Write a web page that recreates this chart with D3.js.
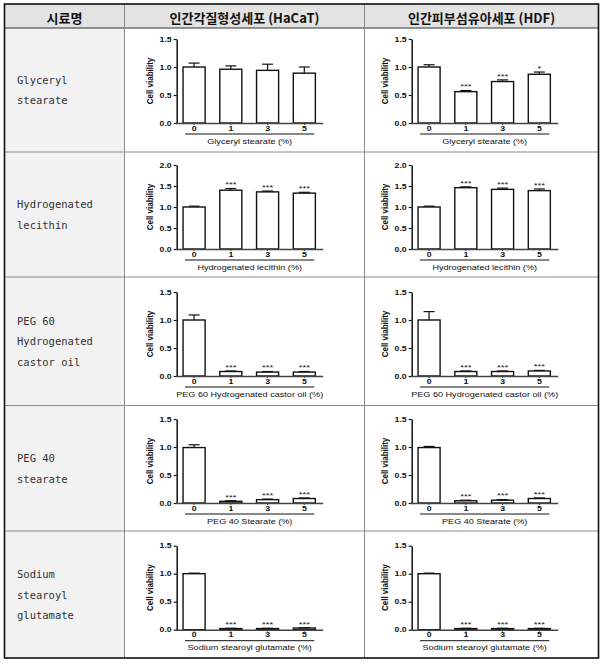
<!DOCTYPE html>
<html><head><meta charset="utf-8">
<script src="https://cdn.jsdelivr.net/npm/d3@7"></script>
<style>html,body{margin:0;padding:0;background:#fff;}svg{display:block;}</style>
</head><body>
<svg id="c" width="606" height="666"></svg>
<script>
// ---------- data ----------
const headers = ["시료명", "인간각질형성세포 (HaCaT)", "인간피부섬유아세포 (HDF)"];
const rowNames = [["Glyceryl","stearate"],["Hydrogenated","lecithin"],["PEG 60","Hydrogenated","castor oil"],["PEG 40","stearate"],["Sodium","stearoyl","glutamate"]];
const xTitles = ["Glyceryl stearate (%)","Hydrogenated lecithin (%)","PEG 60 Hydrogenated castor oil (%)","PEG 40 Stearate (%)","Sodium stearoyl glutamate (%)"];
const doses = ["0","1","3","5"];
const yLabel = "Cell viability";
const yMax = [1.5, 2.0, 1.5, 1.5, 1.5];
const yTicks15 = [0, 0.5, 1.0, 1.5];
const yTicks20 = [0, 0.5, 1.0, 1.5, 2.0];
const hacatMean = [[1.00,0.96,0.94,0.89],[1.00,1.40,1.36,1.33],[1.00,0.08,0.07,0.07],[0.99,0.03,0.06,0.08],[1.00,0.02,0.02,0.03]];
const hacatErr  = [[0.07,0.06,0.11,0.11],[0.02,0.04,0.02,0.02],[0.09,0.01,0.01,0.01],[0.05,0.01,0.01,0.01],[0.01,0.005,0.005,0.005]];
const hacatSig  = [["","","",""],["","***","***","***"],["","***","***","***"],["","***","***","***"],["","***","***","***"]];
const hdfMean = [[1.00,0.56,0.74,0.87],[1.00,1.46,1.42,1.39],[1.00,0.08,0.08,0.09],[0.99,0.04,0.05,0.08],[1.00,0.02,0.02,0.02]];
const hdfErr  = [[0.04,0.02,0.03,0.04],[0.02,0.02,0.03,0.04],[0.15,0.01,0.01,0.01],[0.02,0.01,0.01,0.01],[0.01,0.005,0.005,0.005]];
const hdfSig  = [["","***","***","*"],["","***","***","***"],["","***","***","***"],["","***","***","***"],["","***","***","***"]];

// ---------- layout ----------
const colX = [4.5, 124.5, 364.5, 598.5];
const rowY = [4, 28, 152, 277, 405.5, 531, 658];
const plotTopOff = [11, 13, 15, 13.5, 14.7];
const plotH = 84;
const axisOff = [52.2, 47.2];
const SX = 1.25;

const svg = d3.select("#c");
svg.append("rect").attr("width",606).attr("height",666).attr("fill","#fff");

// backgrounds
svg.append("rect").attr("x",colX[0]).attr("y",rowY[0]).attr("width",colX[3]-colX[0]).attr("height",rowY[1]-rowY[0]).attr("fill","#e3e3e3");
svg.append("rect").attr("x",colX[0]).attr("y",rowY[1]).attr("width",colX[1]-colX[0]).attr("height",rowY[6]-rowY[1]).attr("fill","#f2f2f2");

// grid lines
for (let i = 2; i <= 5; i++) {
  svg.append("line").attr("x1",colX[0]).attr("x2",colX[3]).attr("y1",rowY[i]).attr("y2",rowY[i]).attr("stroke","#8a8a8a").attr("stroke-width",1);
}
svg.append("line").attr("x1",colX[0]).attr("x2",colX[3]).attr("y1",rowY[1]).attr("y2",rowY[1]).attr("stroke","#333").attr("stroke-width",1);
[1,2].forEach(i => svg.append("line").attr("x1",colX[i]).attr("x2",colX[i]).attr("y1",rowY[0]).attr("y2",rowY[6]).attr("stroke","#8a8a8a").attr("stroke-width",1));
svg.append("rect").attr("x",colX[0]).attr("y",rowY[0]).attr("width",colX[3]-colX[0]).attr("height",rowY[6]-rowY[0])
  .attr("fill","none").attr("stroke","#111").attr("stroke-width",1.6);

// header text
headers.forEach((h,i) => {
  svg.append("text").attr("x",(colX[i]+colX[i+1])/2).attr("y",(rowY[0]+rowY[1])/2+1)
    .attr("text-anchor","middle").attr("dominant-baseline","central")
    .attr("font-family","'Noto Sans CJK KR', sans-serif").attr("font-weight",700).attr("font-size",13)
    .attr("fill","#111").text(h);
});

// row name text
rowNames.forEach((lines,r) => {
  const cy = (rowY[r+1]+rowY[r+2])/2;
  lines.forEach((t,k) => {
    svg.append("text").attr("x",17).attr("y",cy + (k-(lines.length-1)/2)*20.5)
      .attr("dominant-baseline","central")
      .attr("font-family","'DejaVu Sans Mono', monospace").attr("font-size",10.5)
      .attr("fill","#333").attr("xml:space","preserve").text(t);
  });
});

function drawChart(r, c, means, errs, sigs) {
  const axisX = colX[c+1] + axisOff[c];
  const top = rowY[r+1] + plotTopOff[r];
  const bottom = top + plotH;
  const g = svg.append("g").attr("font-family","'Liberation Sans', Arial, sans-serif");
  const x = d3.scaleBand().domain(doses).range([axisX-1, axisX-1+147]).paddingInner(0.4).paddingOuter(0.2);
  const y = d3.scaleLinear().domain([0, yMax[r]]).range([bottom, top]);
  const bw = x.bandwidth();

  // bars
  g.selectAll("rect.bar").data(doses).join("rect")
    .attr("x", d => x(d)).attr("width", bw)
    .attr("y", (d,i) => y(means[i])).attr("height", (d,i) => bottom - y(means[i]))
    .attr("fill","#fff").attr("stroke","#111").attr("stroke-width",1.4);
  // error bars
  doses.forEach((d,i) => {
    const cx = x(d) + bw/2;
    const y0 = y(means[i]), y1 = y(means[i]+errs[i]);
    g.append("line").attr("x1",cx).attr("x2",cx).attr("y1",y0).attr("y2",y1).attr("stroke","#111").attr("stroke-width",1.2);
    g.append("line").attr("x1",cx-5.5).attr("x2",cx+5.5).attr("y1",y1).attr("y2",y1).attr("stroke","#111").attr("stroke-width",1.2);
    if (sigs[i]) {
      g.append("text").attr("transform",`translate(${cx},${y1-1.2}) scale(1.2,1)`)
        .attr("text-anchor","middle").attr("font-size",8).attr("fill","#222").text(sigs[i]);
    }
  });

  // y axis
  const ya = g.append("g").attr("transform",`translate(${axisX},0)`)
    .call(d3.axisLeft(y).tickValues(yMax[r] > 1.6 ? yTicks20 : yTicks15).tickSize(3).tickSizeOuter(0).tickFormat(d3.format(".1f")));
  ya.select(".domain").attr("stroke","#111").attr("stroke-width",1.5);
  ya.selectAll(".tick line").attr("stroke","#111").attr("stroke-width",1.2);
  ya.selectAll(".tick text").attr("x",0).attr("dy",null).attr("dominant-baseline","central")
    .attr("transform",`translate(-5,0) scale(${SX},1)`)
    .attr("font-size",7).attr("font-weight",700).attr("fill","#111").attr("font-family",null);
  ya.attr("font-family",null).attr("font-size",null);

  // x axis
  const xa = g.append("g").attr("transform",`translate(0,${bottom})`)
    .call(d3.axisBottom(x).tickSize(2).tickSizeOuter(0));
  xa.select(".domain").attr("stroke","#444").attr("stroke-width",1.6);
  xa.selectAll(".tick line").attr("stroke","#444");
  xa.selectAll(".tick text").attr("y",0).attr("dy",null).attr("dominant-baseline","central")
    .attr("transform",`translate(0,5.5) scale(${SX},1)`)
    .attr("font-size",7).attr("font-weight",700).attr("fill","#111");
  xa.attr("font-family",null).attr("font-size",null);

  // underline + title
  const ux0 = x(doses[0]) + 2, ux1 = x(doses[doses.length-1]) + bw - 1;
  g.append("line").attr("x1",ux0).attr("x2",ux1).attr("y1",bottom+11).attr("y2",bottom+11).attr("stroke","#111").attr("stroke-width",1);
  g.append("text").attr("transform",`translate(${(ux0+ux1)/2},${bottom+18.5}) scale(1.3,1)`)
    .attr("text-anchor","middle").attr("dominant-baseline","central")
    .attr("font-size",7).attr("fill","#111").text(xTitles[r]);

  // y label
  g.append("text").attr("transform",`translate(${axisX-27},${(top+bottom)/2}) rotate(-90) scale(1,1.15)`)
    .attr("text-anchor","middle").attr("dominant-baseline","central")
    .attr("font-size",8).attr("font-weight",700).attr("fill","#111").text(yLabel);
}

for (let r = 0; r < 5; r++) {
  drawChart(r, 0, hacatMean[r], hacatErr[r], hacatSig[r]);
  drawChart(r, 1, hdfMean[r], hdfErr[r], hdfSig[r]);
}
</script>
</body></html>
